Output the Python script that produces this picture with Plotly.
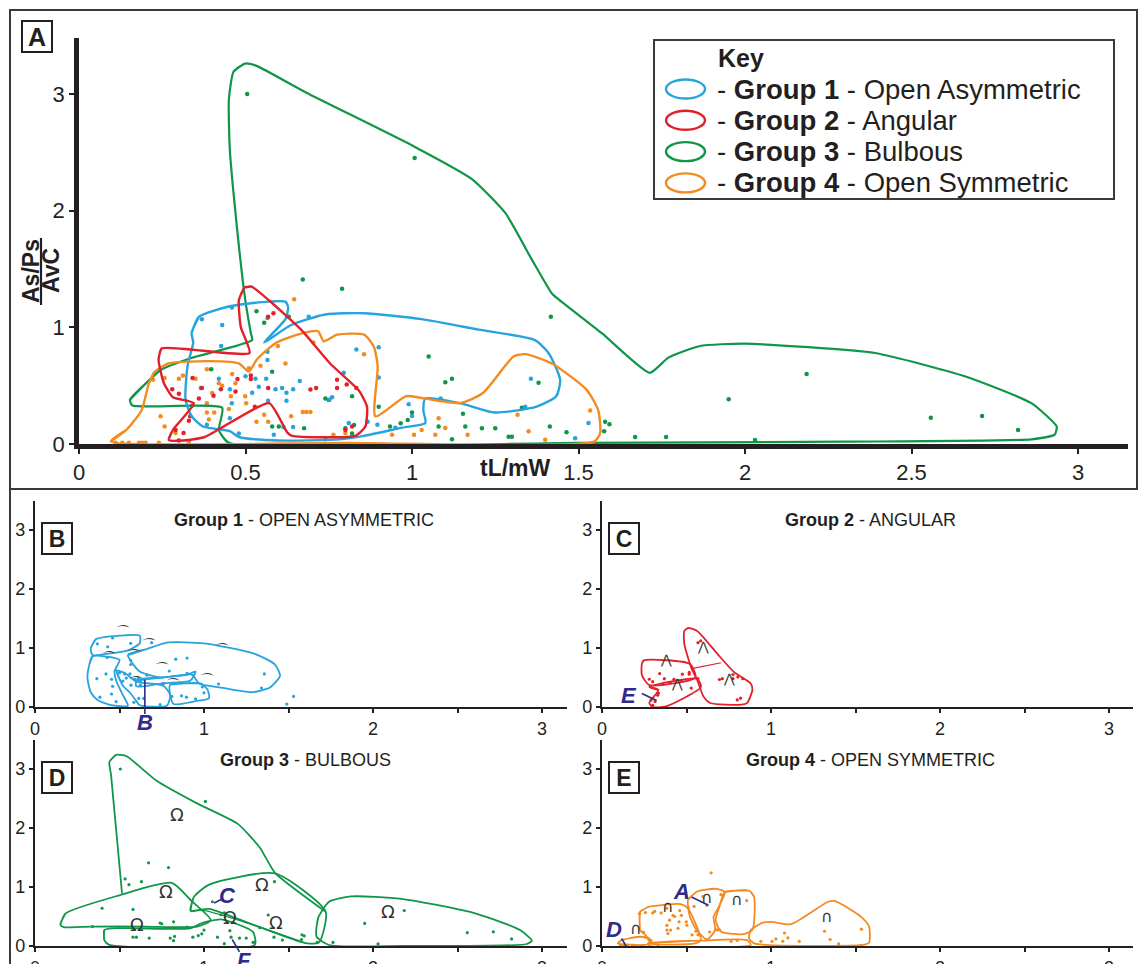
import plotly.graph_objects as go

W, H = 1139, 964

# ---------------- data ----------------
# Group points (tL/mW, As/Ps / AvC)
G1_PTS = [(0.369,1.07),(0.43,1.02),(0.459,1.17),(0.566,1.08),(0.69,1.09),(0.833,0.81),(0.9,0.83),
          (0.566,0.79),(0.566,0.72),(0.427,0.84),(0.9,0.57),(0.795,0.61),(0.99,0.34),(1.086,0.39),
          (1.357,0.56),(1.34,0.32),(1.53,0.18),(1.49,0.05),(0.366,0.48),(0.42,0.56),(0.453,0.47),
          (0.53,0.56),(0.562,0.56),(0.59,0.47),(0.61,0.48),(0.643,0.47),(0.663,0.54),(0.54,0.49),
          (0.568,0.37),(0.623,0.37),(0.623,0.44),(0.752,0.38),(0.76,0.4),(0.867,0.19),(0.896,0.166),
          (0.81,0.18),(0.459,0.35),(0.453,0.22),(0.614,0.146),(0.643,0.146),(0.585,0.08),(0.48,0.09),
          (0.384,0.166),(0.74,0.04),(1.0,0.24),(0.95,0.14),(0.5,0.58),(0.52,0.44)]
G2_PTS = [(0.584,1.12),(0.568,1.09),(0.341,0.566),(0.28,0.47),(0.30,0.43),(0.369,0.48),(0.426,0.47),
          (0.476,0.557),(0.516,0.586),(0.516,0.557),(0.568,0.48),(0.695,0.466),(0.712,0.48),(0.775,0.55),
          (0.775,0.48),(0.804,0.51),(0.833,0.48),(0.334,0.237),(0.314,0.094),(0.29,0.12),(0.528,0.32),
          (0.36,0.39),(0.404,0.414),(0.3,0.03),(0.82,0.15),(0.8,0.12),(0.47,0.45),(0.33,0.2)]
G3_PTS = [(0.505,3.0),(1.008,2.45),(0.533,1.137),(0.672,1.41),(0.79,1.33),(0.63,1.09),(0.556,1.04),
          (1.417,1.09),(1.05,0.75),(0.58,0.62),(0.397,0.64),(1.12,0.56),(1.1,0.53),(1.38,0.525),
          (0.82,0.41),(0.9,0.32),(1.0,0.27),(1.08,0.15),(1.16,0.15),(1.153,0.26),(1.21,0.134),
          (1.25,0.134),(1.33,0.31),(1.414,0.15),(1.29,0.063),(1.3,0.063),(1.58,0.19),(1.593,0.17),
          (1.577,0.11),(0.966,0.177),(0.987,0.206),(0.934,0.15),(0.676,0.134),(0.826,0.163),(0.6,0.15),
          (0.58,0.15),(0.8,0.134),(0.82,0.09),(1.12,0.04),(1.67,0.06),(0.75,0.377),(0.74,0.39),
          (1.951,0.383),(2.185,0.6),(2.558,0.225),(2.712,0.24),(2.82,0.12),(2.03,0.035),(1.763,0.06),
          (1.464,0.1),(0.34,0.33)]
G4_PTS = [(0.646,1.24),(0.597,0.84),(0.704,0.87),(0.856,0.77),(0.62,0.69),(0.545,0.67),(0.384,0.64),
          (0.46,0.6),(0.222,0.55),(0.257,0.566),(0.312,0.586),(0.4,0.437),(0.456,0.41),(0.499,0.41),
          (0.502,0.35),(0.384,0.35),(0.245,0.237),(0.257,0.15),(0.29,0.094),(0.384,0.27),(0.406,0.27),
          (0.39,0.21),(0.556,0.25),(0.533,0.19),(0.568,0.19),(0.672,0.274),(0.683,0.274),(0.695,0.274),
          (0.637,0.237),(0.764,0.08),(0.8,0.094),(1.006,0.08),(1.029,0.12),(1.08,0.22),(1.1,0.137),
          (1.07,0.08),(1.167,0.08),(1.317,0.25),(1.35,0.11),(1.4,0.037),(1.535,0.286),(0.94,0.08),
          (0.51,0.65),(0.43,0.5),(0.47,0.52),(0.35,0.56),(0.45,0.3),(0.11,0.01),(0.13,0.01),(0.15,0.01),
          (0.18,0.01),(0.19,0.01),(0.2,0.01),(0.24,0.01),(0.33,0.02),(0.42,0.52),(0.3,0.56)]

# Group envelopes in panel A
A_G1_OUTLINE = [(0.338,0.95),(0.36,1.09),(0.453,1.18),(0.568,1.22),(0.62,1.22),(0.628,1.17),(0.62,1.07),
                (0.556,0.87),(0.637,1.02),(0.74,1.11),(0.856,1.12),(1.029,1.07),(1.2,0.98),(1.369,0.89),
                (1.41,0.78),(1.445,0.55),(1.433,0.41),(1.374,0.32),(1.248,0.27),(1.144,0.35),(1.04,0.39),
                (1.034,0.29),(1.04,0.18),(0.97,0.14),(0.856,0.07),(0.78,0.04),(0.6,0.03),(0.48,0.06),
                (0.453,0.11),(0.372,0.15),(0.338,0.24),(0.32,0.38),(0.326,0.67),(0.343,0.87)]
A_G2_OUTLINE = [(0.497,1.34),(0.517,1.35),(0.571,1.23),(0.667,0.98),(0.754,0.69),(0.84,0.46),(0.865,0.32),
                (0.86,0.15),(0.83,0.07),(0.64,0.07),(0.625,0.1),(0.571,0.35),(0.378,0.06),(0.314,0.03),
                (0.27,0.034),(0.282,0.12),(0.345,0.35),(0.282,0.40),(0.255,0.52),(0.239,0.72),(0.249,0.82),
                (0.512,0.78),(0.486,1.0),(0.48,1.23)]
A_G3_OUTLINE = [(0.153,0.38),(0.245,0.634),(0.337,0.737),(0.52,0.89),(0.516,0.95),(0.499,1.24),(0.476,1.81),
                (0.453,2.52),(0.45,2.95),(0.464,3.19),(0.499,3.26),(0.533,3.24),(0.683,3.01),(1.006,2.55),
                (1.18,2.27),(1.28,1.98),(1.36,1.58),(1.42,1.29),(1.44,1.24),(1.57,0.95),(1.714,0.61),
                (1.77,0.74),(1.865,0.84),(2.0,0.86),(2.39,0.78),(2.66,0.58),(2.86,0.35),(2.936,0.15),
                (2.93,0.08),(2.86,0.04),(2.3,0.02),(1.5,0.01),(0.45,0.01),(0.42,0.12),(0.43,0.31),(0.16,0.33)]
A_G4_OUTLINE = [(0.096,0.023),(0.142,0.12),(0.188,0.29),(0.21,0.52),(0.228,0.62),(0.268,0.69),(0.395,0.71),
                (0.48,0.69),(0.51,0.62),(0.533,0.72),(0.591,0.866),(0.672,0.95),(0.718,0.966),(0.735,0.88),
                (0.775,0.937),(0.856,0.937),(0.885,0.837),(0.897,0.666),(0.89,0.237),(0.983,0.41),
                (1.029,0.394),(1.144,0.35),(1.213,0.437),(1.305,0.75),(1.34,0.77),(1.42,0.69),(1.524,0.466),
                (1.559,0.29),(1.565,0.094),(1.547,0.02),(0.8,0.01)]

# Sub-group envelopes, panel B (Group 1)
B_SUB_1 = [(0.33,1.0),(0.36,1.15),(0.50,1.21),(0.62,1.21),(0.62,1.08),(0.55,0.96),(0.42,0.9),(0.34,0.88)]
B_SUB_2 = [(0.55,0.88),(0.66,0.98),(0.78,1.09),(1.0,1.08),(1.3,0.9),(1.42,0.72),(1.45,0.53),(1.39,0.33),
           (1.28,0.25),(1.1,0.33),(0.97,0.4),(0.93,0.55),(0.75,0.5),(0.62,0.6)]
B_SUB_3 = [(0.34,0.86),(0.32,0.7),(0.31,0.5),(0.33,0.25),(0.37,0.12),(0.45,0.03),(0.55,0.02),(0.52,0.2),
           (0.48,0.45),(0.47,0.6),(0.5,0.8)]
B_SUB_4 = [(0.48,0.62),(0.52,0.36),(0.56,0.25),(0.6,0.1),(0.62,0.03),(0.78,0.02),(0.8,0.2),(0.76,0.36),
           (0.6,0.43),(0.53,0.58)]
B_SUB_5 = [(0.6,0.45),(0.75,0.5),(0.9,0.55),(0.95,0.6),(0.92,0.45),(0.75,0.4),(0.6,0.35)]
B_SUB_6 = [(0.8,0.38),(0.98,0.4),(1.02,0.3),(1.03,0.15),(0.95,0.1),(0.82,0.05),(0.8,0.2)]

# Panel C (Group 2)
C_SUB_1 = [(0.236,0.73),(0.247,0.79),(0.52,0.73),(0.553,0.5),(0.28,0.37),(0.236,0.54)]
C_SUB_2 = [(0.28,0.34),(0.334,0.29),(0.28,0.067),(0.3,0.0),(0.378,0.01),(0.585,0.34),(0.563,0.48)]
C_SUB_3 = [(0.487,1.29),(0.509,1.34),(0.563,1.29),(0.683,0.9),(0.782,0.59),(0.88,0.4),(0.89,0.29),
           (0.858,0.067),(0.825,0.04),(0.64,0.067),(0.6,0.18),(0.563,0.46),(0.53,0.65),(0.487,1.07)]
C_DIV = [(0.53,0.65),(0.705,0.75)]

# Panel D (Group 3)
D_SUB_1 = [(0.515,0.89),(0.45,2.9),(0.44,3.12),(0.48,3.24),(0.54,3.22),(0.72,2.8),(0.95,2.43),(1.2,2.07),
           (1.33,1.67),(1.42,1.24),(1.72,0.58)]
D_SUB_2 = [(0.15,0.36),(0.18,0.55),(0.5,0.86),(0.81,1.07),(0.92,0.78),(1.04,0.44),(0.96,0.33),(0.65,0.33),
           (0.33,0.33),(0.17,0.32)]
D_SUB_3 = [(0.92,0.6),(0.94,0.83),(1.03,1.04),(1.42,1.23),(1.72,0.58),(1.68,0.06),(1.6,0.05),(1.3,0.35),
           (1.03,0.63)]
D_SUB_4 = [(0.41,0.27),(0.41,0.1),(0.44,0.02),(1.3,0.02),(1.29,0.24),(1.1,0.45),(0.98,0.38),(0.92,0.3),
           (0.6,0.3),(0.45,0.3)]
D_SUB_5 = [(0.92,0.58),(1.0,0.6),(1.3,0.35),(1.6,0.05)]
D_SUB_6 = [(1.666,0.33),(1.677,0.49),(1.74,0.75),(1.87,0.84),(2.17,0.8),(2.61,0.55),(2.87,0.27),(2.94,0.09),
           (2.91,0.034),(2.17,0.0),(1.74,0.017),(1.666,0.157)]

# Panel E (Group 4)
E_SUB_1 = [(0.094,0.045),(0.116,0.1),(0.225,0.157),(0.28,0.13),(0.29,0.045),(0.245,0.017)]
E_SUB_2 = [(0.225,0.27),(0.225,0.58),(0.247,0.62),(0.27,0.66),(0.465,0.71),(0.509,0.635),(0.585,0.1),
           (0.55,0.045),(0.29,0.045),(0.258,0.185)]
E_SUB_3 = [(0.27,0.045),(0.575,0.09),(0.858,0.1),(0.88,0.017),(0.29,0.0)]
E_SUB_4 = [(0.509,0.78),(0.56,0.92),(0.672,0.97),(0.727,0.915),(0.69,0.66),(0.66,0.49),(0.67,0.27),
           (0.62,0.11),(0.56,0.27),(0.52,0.5)]
E_SUB_5 = [(0.727,0.915),(0.869,0.94),(0.9,0.83),(0.89,0.27),(0.836,0.2),(0.706,0.24),(0.672,0.44),(0.694,0.66)]
E_SUB_6 = [(0.88,0.27),(0.945,0.39),(1.0,0.41),(1.12,0.37),(1.338,0.75),(1.38,0.76),(1.535,0.49),(1.58,0.33),
           (1.58,0.056),(1.535,0.017),(0.9,0.045),(0.87,0.13)]

X_TICKS_A = [0, 0.5, 1, 1.5, 2, 2.5, 3]
X_TICKTEXT_A = ["0", "0.5", "1", "1.5", "2", "2.5", "3"]
Y_TICKS = [0, 1, 2, 3]
X_TICKS_SMALL = [0, 1, 2, 3]

GROUP_NAMES = ["Open Asymmetric", "Angular", "Bulbous", "Open Symmetric"]
PANEL_TITLES = ["OPEN ASYMMETRIC", "ANGULAR", "BULBOUS", "OPEN SYMMETRIC"]

# ---------------- styling ----------------
BLUE, RED, GREEN, ORANGE = "#27a3de", "#e3202a", "#109648", "#f38b20"
COLORS = [BLUE, RED, GREEN, ORANGE]
INK = "#231f20"
PURPLE = "#2e2b8a"
FONT = "Liberation Sans, Arial, sans-serif"

PANELS = {
    'A': dict(ax='', x0=79, x1=1128, sx=333.0, y0=444, y1=38, sy=116.7),
    'B': dict(ax='2', x0=35, x1=567, sx=169.0, y0=707, y1=501, sy=59.0),
    'C': dict(ax='3', x0=602, x1=1133, sx=169.0, y0=707, y1=501, sy=59.0),
    'D': dict(ax='4', x0=35, x1=567, sx=169.0, y0=946, y1=740, sy=59.0),
    'E': dict(ax='5', x0=602, x1=1133, sx=169.0, y0=946, y1=740, sy=59.0),
}


def pp(px, py):
    return px / W, 1 - py / H


def d2p(panel, x, y):
    p = PANELS[panel]
    return pp(p['x0'] + x * p['sx'], p['y0'] - y * p['sy'])


fig = go.Figure()


def add_points(panel, pts, color, size):
    a = PANELS[panel]['ax']
    fig.add_trace(go.Scatter(x=[q[0] for q in pts], y=[q[1] for q in pts], mode='markers',
                             marker=dict(color=color, size=size, line=dict(width=0)),
                             xaxis='x' + a, yaxis='y' + a, cliponaxis=False, showlegend=False,
                             hoverinfo='skip'))


def add_outline(panel, pts, color, width, closed=True, smoothing=0.7):
    a = PANELS[panel]['ax']
    xs = [q[0] for q in pts]
    ys = [q[1] for q in pts]
    if closed:
        xs = xs + xs[:2]
        ys = ys + ys[:2]
    fig.add_trace(go.Scatter(x=xs, y=ys, mode='lines',
                             line=dict(color=color, width=width, shape='spline', smoothing=smoothing),
                             xaxis='x' + a, yaxis='y' + a, cliponaxis=False, showlegend=False,
                             hoverinfo='skip'))


# Panel A
for pts, c in zip([G4_PTS, G3_PTS, G1_PTS, G2_PTS], [ORANGE, GREEN, BLUE, RED]):
    add_points('A', pts, c, 4.5)
add_outline('A', A_G3_OUTLINE, GREEN, 2.2, smoothing=0.5)
add_outline('A', A_G1_OUTLINE, BLUE, 2.4, smoothing=0.6)
add_outline('A', A_G4_OUTLINE, ORANGE, 2.4, smoothing=0.6)
add_outline('A', A_G2_OUTLINE, RED, 2.4, smoothing=0.5)

# Small panels
for panel, pts, c, subs in [
    ('B', G1_PTS, BLUE, [B_SUB_1, B_SUB_2, B_SUB_3, B_SUB_4, B_SUB_5, B_SUB_6]),
    ('C', G2_PTS, RED, [C_SUB_1, C_SUB_2, C_SUB_3]),
    ('D', G3_PTS, GREEN, [D_SUB_2, D_SUB_3, D_SUB_4, D_SUB_6]),
    ('E', G4_PTS, ORANGE, [E_SUB_1, E_SUB_2, E_SUB_3, E_SUB_4, E_SUB_5, E_SUB_6]),
]:
    add_points(panel, pts, c, 3.2)
    for s in subs:
        add_outline(panel, s, c, 1.8, smoothing=0.6)
add_outline('C', C_DIV, RED, 1.2, closed=False)
add_outline('D', D_SUB_1, GREEN, 1.8, closed=False, smoothing=0.5)
add_outline('D', D_SUB_5, GREEN, 1.2, closed=False)

# ---------------- axes ----------------
layout_axes = {}
for name, p in PANELS.items():
    a = p['ax']
    big = name == 'A'
    xr = [0, (p['x1'] - p['x0']) / p['sx']]
    yr = [0, (p['y0'] - p['y1']) / p['sy']]
    xd = [p['x0'] / W, p['x1'] / W]
    yd = [1 - p['y0'] / H, 1 - p['y1'] / H]
    layout_axes['xaxis' + a] = dict(
        domain=xd, range=xr, anchor='y' + a, showgrid=False, zeroline=False,
        showline=True, linecolor=INK, linewidth=4.5 if big else 2.2,
        ticks='outside', ticklen=5 if big else 4, tickwidth=2 if big else 1.5, tickcolor=INK,
        tickvals=X_TICKS_A if big else X_TICKS_SMALL,
        ticktext=X_TICKTEXT_A if big else [str(v) for v in X_TICKS_SMALL],
        minor=None if big else dict(tickvals=[0.5, 1.5, 2.5], ticks='outside', ticklen=4,
                                    tickwidth=1.5, tickcolor=INK),
        tickfont=dict(family=FONT, size=22 if big else 18, color=INK),
        fixedrange=True)
    layout_axes['yaxis' + a] = dict(
        domain=yd, range=yr, anchor='x' + a, showgrid=False, zeroline=False,
        showline=True, linecolor=INK, linewidth=4.5 if big else 2.2,
        ticks='outside', ticklen=5 if big else 4, tickwidth=2 if big else 1.5, tickcolor=INK,
        tickvals=Y_TICKS, ticktext=[str(v) for v in Y_TICKS],
        tickfont=dict(family=FONT, size=22 if big else 18, color=INK),
        fixedrange=True)

annotations = []
shapes = []


def ann(px, py, text, size, color=INK, xanchor='center', **kw):
    x, y = pp(px, py)
    d = dict(x=x, y=y, xref='paper', yref='paper', text=text, showarrow=False,
             font=dict(family=FONT, size=size, color=color), xanchor=xanchor, yanchor='middle')
    d.update(kw)
    annotations.append(d)


def seg_paper(x0, y0, x1, y1, color, width):
    shapes.append(dict(type='line', xref='paper', yref='paper', x0=x0, y0=y0, x1=x1, y1=y1,
                       line=dict(color=color, width=width)))


# frame
fx0, fy0 = pp(10, 10)
fx1, fy1 = pp(1137, 489)
shapes.append(dict(type='rect', xref='paper', yref='paper', x0=fx0, y0=fy1, x1=fx1, y1=fy0,
                   line=dict(color='#3a3a3a', width=2)))
lx0, ly0 = pp(10, 489)
lx1, ly1 = pp(10, 964)
seg_paper(lx0, ly0, lx1, ly1, '#3a3a3a', 2)

# panel letters
for letter, (cx, cy), size in [('A', (37, 37), 25), ('B', (57, 538), 23), ('C', (624, 538), 23),
                               ('D', (57, 777), 23), ('E', (624, 777), 23)]:
    ann(cx, cy, '<b>%s</b>' % letter, size, bordercolor=INK, borderwidth=2, borderpad=1,
        bgcolor='white', width=26, height=27)

# axis titles (panel A)
ann(515, 468, '<b>tL/mW</b>', 23)
ann(31, 271, '<b>As/Ps</b>', 23, textangle=-90)
ann(51, 271, '<b>AvC</b>', 23, textangle=-90)
bx0, by0 = pp(41, 238)
bx1, by1 = pp(41, 305)
seg_paper(bx0, by0, bx1, by1, INK, 2.2)

# legend
kx0, ky0 = pp(654, 40)
kx1, ky1 = pp(1114, 199)
shapes.append(dict(type='rect', xref='paper', yref='paper', x0=kx0, y0=ky1, x1=kx1, y1=ky0,
                   line=dict(color='#3a3a3a', width=2), fillcolor='white', layer='below'))
ann(716, 58, '<b>Key</b>', 25, xanchor='left')
for i, (name, col) in enumerate(zip(GROUP_NAMES, COLORS)):
    cy = 89 + i * 31.3
    ex0, ey0 = pp(666, cy - 9.5)
    ex1, ey1 = pp(705, cy + 9.5)
    shapes.append(dict(type='circle', xref='paper', yref='paper', x0=ex0, y0=ey1, x1=ex1, y1=ey0,
                       line=dict(color=col, width=2.4)))
    ann(715, cy, '- <b>Group %d</b> - %s' % (i + 1, name), 27.5, xanchor='left')

# sub-panel titles
for (cx, cy), i in zip([(304, 520), (871, 520), (305, 760), (871, 760)], range(4)):
    ann(cx, cy, '<b>Group %d</b> - %s' % (i + 1, PANEL_TITLES[i]), 18)

# shape glyphs inside sub-group envelopes
GLYPHS = [
    ('B', '⌒', [(0.46, 1.06), (0.615, 0.84), (0.376, 0.62), (0.527, 0.66), (0.69, 0.44), (0.54, 0.2),
                (0.76, 0.17), (0.96, 0.25), (1.05, 0.76)], 16),
    ('C', '⋀', [(0.378, 0.65), (0.596, 0.87), (0.443, 0.23), (0.75, 0.32)], 13),
    ('D', 'Ω', [(0.787, 2.01), (0.72, 0.72), (0.55, 0.16), (1.1, 0.27), (1.37, 0.19), (1.29, 0.83),
                (2.09, 0.38)], 18),
    ('E', '∩', [(0.2, 0.1), (0.39, 0.47), (0.62, 0.63), (0.8, 0.6), (1.38, 0.3)], 16),
]
for panel, ch, locs, size in GLYPHS:
    for (x, y) in locs:
        px_, py_ = d2p(panel, x, y)
        annotations.append(dict(x=px_, y=py_, xref='paper', yref='paper', text=ch, showarrow=False,
                                font=dict(family='DejaVu Sans', size=size, color='#333333')))

# purple pointer labels
POINTERS = [
    ('B', 'B', (145, 722), (0.65, 0.46), (0.65, -0.12)),
    ('C', 'E', (629, 695), (0.236, 0.23), (0.323, 0.11)),
    ('D', 'C', (227, 895), (1.06, 0.73), (1.11, 0.8)),
    ('D', 'F', (244, 960), (1.167, 0.11), (1.21, -0.1)),
    ('E', 'A', (681, 891), (0.53, 0.83), (0.63, 0.69)),
    ('E', 'D', (614, 929), (0.116, 0.13), (0.142, 0.0)),
]
for panel, lab, (lpx, lpy), (ax0, ay0), (ax1, ay1) in POINTERS:
    ann(lpx, lpy, '<b><i>%s</i></b>' % lab, 22, color=PURPLE)
    p0 = d2p(panel, ax0, ay0)
    p1 = d2p(panel, ax1, ay1)
    seg_paper(p0[0], p0[1], p1[0], p1[1], PURPLE, 1.6)

fig.update_layout(
    width=W, height=H, margin=dict(l=0, r=0, t=0, b=0, autoexpand=False),
    paper_bgcolor='white', plot_bgcolor='white', showlegend=False,
    annotations=annotations, shapes=shapes, **layout_axes)

fig.write_html("out.html", config={'displayModeBar': False},
               post_script="document.body.style.margin='0';document.body.style.padding='0';"
                           "document.body.style.overflow='hidden';")
